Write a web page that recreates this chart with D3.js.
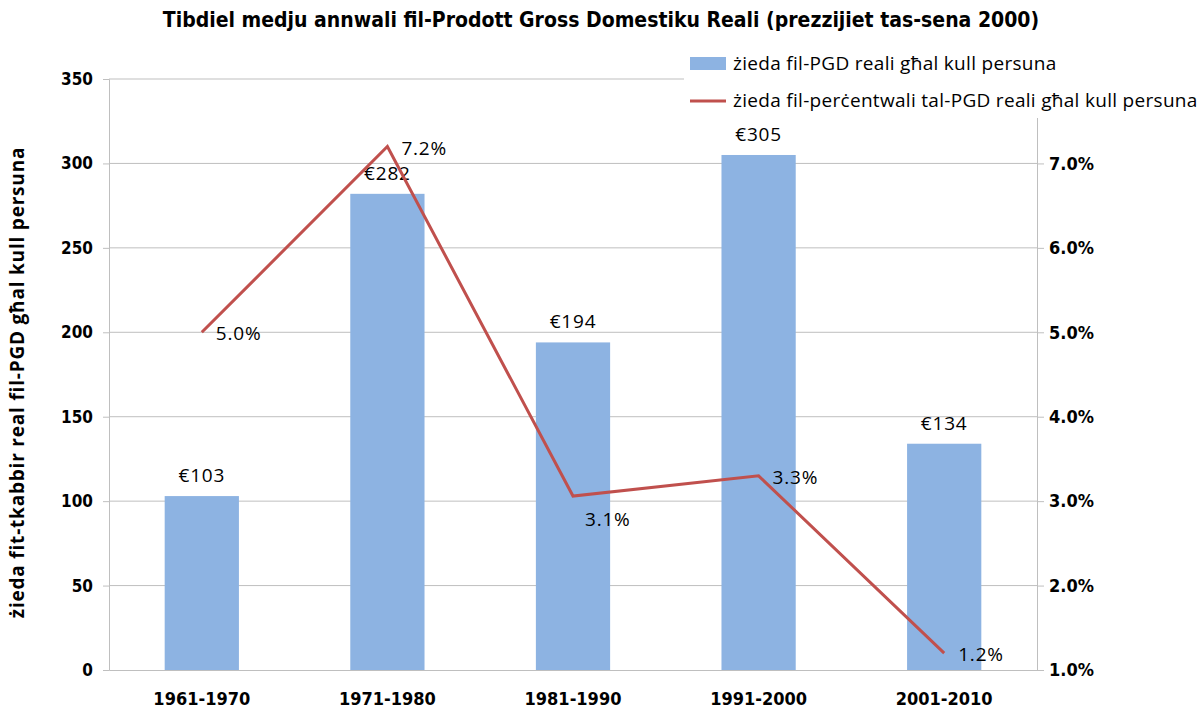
<!DOCTYPE html>
<html>
<head>
<meta charset="utf-8">
<script src="https://cdn.jsdelivr.net/npm/d3@7"></script>
<style>
  body { margin: 0; background: #fff; }
  text { font-family: "Liberation Sans Narrow", "DejaVu Sans Condensed", "Open Sans", sans-serif; }
  .reg { font-family: "Open Sans", "Liberation Sans", sans-serif; }
</style>
</head>
<body>
<div id="chart"></div>
<script>
// data
const periods = ["1961-1970", "1971-1980", "1981-1990", "1991-2000", "2001-2010"];
const gdpIncrease = [103, 282, 194, 305, 134];
const pctIncrease = [5.0, 7.2, 3.06, 3.3, 1.2];
const pctLabels = ["5.0%", "7.2%", "3.1%", "3.3%", "1.2%"];
const leftTicks = [0, 50, 100, 150, 200, 250, 300, 350];
const rightTicks = [1, 2, 3, 4, 5, 6, 7];

const titleText = "Tibdiel medju annwali fil-Prodott Gross Domestiku Reali (prezzijiet tas-sena 2000)";
const yTitle = "żieda fit-tkabbir real fil-PGD għal kull persuna";
const legendBar = "żieda fil-PGD reali għal kull persuna";
const legendLine = "żieda fil-perċentwali tal-PGD reali għal kull persuna";

const W = 1201, H = 710;
const margin = { top: 79, right: 164, bottom: 40, left: 109 };
const width = W - margin.left - margin.right;
const height = H - margin.top - margin.bottom;

const svg = d3.select("#chart")
    .append("svg")
    .attr("width", W)
    .attr("height", H);

const g = svg.append("g")
    .attr("transform", `translate(${margin.left}, ${margin.top})`);

// scales
const x = d3.scaleBand()
    .domain(periods)
    .range([0, width])
    .paddingInner(0.6)
    .paddingOuter(0.3);

const xStep = d3.scaleBand().domain(periods).range([0, width]);

const yLeft = d3.scaleLinear().domain([0, 350]).range([height, 0]);
const yRight = d3.scaleLinear().domain([1, 8]).range([height, 0]);

const grey = "#bfbfbf";

// gridlines
g.append("g")
    .selectAll("line")
    .data(leftTicks.slice(1))
    .join("line")
    .attr("x1", 0).attr("x2", width)
    .attr("y1", d => yLeft(d)).attr("y2", d => yLeft(d))
    .attr("stroke", grey).attr("stroke-width", 1);

// left axis
const axL = g.append("g")
    .call(d3.axisLeft(yLeft).tickValues(leftTicks).tickSize(6).tickPadding(10));
axL.selectAll("text")
    .style("font-size", "17px").style("font-weight", "bold").attr("fill", "#000");
axL.selectAll("line, path").attr("stroke", grey);

// right axis
const axR = g.append("g")
    .attr("transform", `translate(${width}, 0)`)
    .call(d3.axisRight(yRight).tickValues(rightTicks).tickSize(7).tickPadding(5)
        .tickFormat(d => d.toFixed(1) + "%"));
axR.selectAll("text")
    .style("font-size", "18px").style("font-weight", "bold").attr("fill", "#000");
axR.selectAll("line, path").attr("stroke", grey);

// bars
g.append("g")
    .selectAll("rect")
    .data(gdpIncrease)
    .join("rect")
    .attr("x", (d, i) => x(periods[i]))
    .attr("y", d => yLeft(d))
    .attr("width", x.bandwidth())
    .attr("height", d => height - yLeft(d))
    .attr("fill", "#8db3e2");

// x axis
const axB = g.append("g")
    .attr("transform", `translate(0, ${height})`)
    .call(d3.axisBottom(xStep).tickSize(0).tickPadding(22));
axB.selectAll("text")
    .style("font-size", "18px").style("font-weight", "bold").attr("fill", "#000");
axB.select("path").attr("stroke", grey);

// bar labels
g.append("g")
    .selectAll("text")
    .data(gdpIncrease)
    .join("text")
    .attr("class", "reg")
    .attr("x", (d, i) => x(periods[i]) + x.bandwidth() / 2)
    .attr("y", d => yLeft(d) - 14)
    .attr("text-anchor", "middle")
    .style("font-size", "19px")
    .style("letter-spacing", "0.8px")
    .text(d => "€" + d);

// line
const cx = i => xStep(periods[i]) + xStep.bandwidth() / 2;
const line = d3.line()
    .x((d, i) => cx(i))
    .y(d => yRight(d));

g.append("path")
    .datum(pctIncrease)
    .attr("d", line)
    .attr("fill", "none")
    .attr("stroke", "#c0504d")
    .attr("stroke-width", 3);

// line labels (third one sits below its point)
g.append("g")
    .selectAll("text")
    .data(pctIncrease)
    .join("text")
    .attr("class", "reg")
    .attr("x", (d, i) => cx(i) + (i === 2 ? 12 : 14))
    .attr("y", (d, i) => yRight(d) + (i === 2 ? 30 : 8))
    .style("font-size", "19px")
    .style("letter-spacing", "0.8px")
    .text((d, i) => pctLabels[i]);

// title
svg.append("text")
    .attr("x", 601)
    .attr("y", 27)
    .attr("text-anchor", "middle")
    .style("font-size", "21px")
    .style("font-weight", "bold")
    .text(titleText);

// y title
svg.append("text")
    .attr("class", "reg")
    .attr("transform", `translate(24, ${margin.top + height / 2 + 8}) rotate(-90)`)
    .attr("text-anchor", "middle")
    .style("font-size", "19px")
    .style("font-weight", "bold")
    .style("letter-spacing", "0.8px")
    .text(yTitle);

// legend
const legend = svg.append("g");
legend.append("rect")
    .attr("x", 684).attr("y", 42).attr("width", 517).attr("height", 76)
    .attr("fill", "#fff");
legend.append("rect")
    .attr("x", 690).attr("y", 57).attr("width", 36).attr("height", 13)
    .attr("fill", "#8db3e2");
legend.append("text")
    .attr("class", "reg")
    .attr("x", 733).attr("y", 70)
    .style("font-size", "19px")
    .style("letter-spacing", "0.3px")
    .text(legendBar);
legend.append("line")
    .attr("x1", 690).attr("x2", 726).attr("y1", 101).attr("y2", 101)
    .attr("stroke", "#c0504d").attr("stroke-width", 3);
legend.append("text")
    .attr("class", "reg")
    .attr("x", 733).attr("y", 107)
    .style("font-size", "19px")
    .style("letter-spacing", "0.3px")
    .text(legendLine);
</script>
</body>
</html>
